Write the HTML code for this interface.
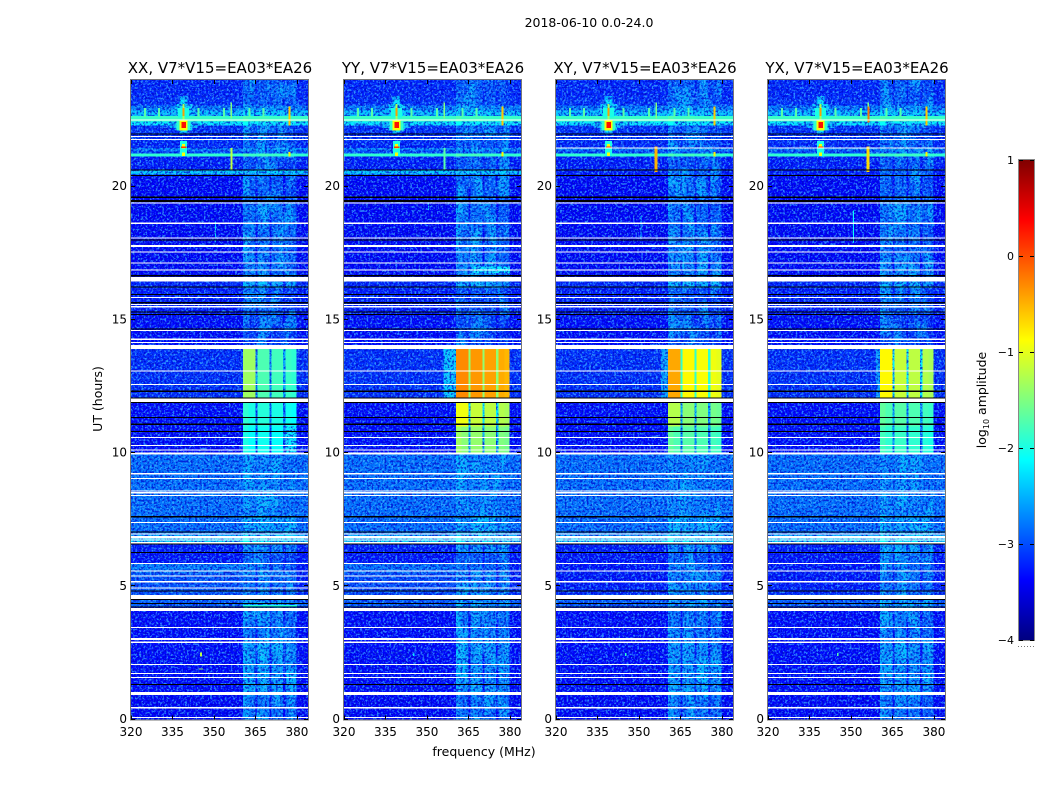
<!DOCTYPE html>
<html>
<head>
<meta charset="utf-8">
<title>2018-06-10 0.0-24.0</title>
<style>
html,body{margin:0;padding:0;background:#fff;}
svg{display:block;}
text{font-family:"DejaVu Sans","Liberation Sans",sans-serif;fill:#000;}
</style>
</head>
<body>
<svg id="chart" xmlns="http://www.w3.org/2000/svg" width="1050" height="800" viewBox="0 0 1050 800">
  <defs>
    <filter id="speck-light" x="0" y="0" width="100%" height="100%">
      <feTurbulence type="fractalNoise" baseFrequency="0.48" numOctaves="2" seed="4"/>
      <feColorMatrix type="matrix" values="0 0 0 0 0.05  0 0 0 0 0.5  0 0 0 0 1  6 0 0 0 -2.9"/>
    </filter>
    <filter id="speck-dark" x="0" y="0" width="100%" height="100%">
      <feTurbulence type="fractalNoise" baseFrequency="0.46" numOctaves="2" seed="11"/>
      <feColorMatrix type="matrix" values="0 0 0 0 0  0 0 0 0 0  0 0 0 0 0.6  6 0 0 0 -2.9"/>
    </filter>
    <filter id="band-mottle" x="0" y="0" width="100%" height="100%">
      <feTurbulence type="fractalNoise" baseFrequency="0.09 0.035" numOctaves="3" seed="7"/>
      <feColorMatrix type="matrix" values="0 0 0 0 0  0 0 0 0 0.85  0 0 0 0 1  5 0 0 0 -2.3"/>
    </filter>
  </defs>
  <text x="589" y="27" font-size="12.5" text-anchor="middle">2018-06-10 0.0-24.0</text>
  <text x="484" y="756" font-size="12.5" text-anchor="middle">frequency (MHz)</text>
  <text x="0" y="0" font-size="12.5" text-anchor="middle" transform="translate(102,399) rotate(-90)">UT (hours)</text>
  <g id="panels"></g>
  <g id="colorbar"></g>
  <text x="0" y="0" font-size="12.5" text-anchor="middle" transform="translate(986,400) rotate(-90)">log<tspan font-size="8" dy="3">10</tspan><tspan dy="-3"> amplitude</tspan></text>
  <line x1="1018" x2="1035" y1="646.5" y2="646.5" stroke="#777" stroke-width="1" stroke-dasharray="1 2"/>
</svg>
<script>
// Chart data (log10 amplitude, hours UT, MHz)
const panelTitles = ["XX, V7*V15=EA03*EA26", "YY, V7*V15=EA03*EA26", "XY, V7*V15=EA03*EA26", "YX, V7*V15=EA03*EA26"];
const freqTicks = [320, 335, 350, 365, 380];
const timeTicks = [0, 5, 10, 15, 20];
const colorTicks = [-4, -3, -2, -1, 0, 1];

const rowTops = [24, 23.35, 23.05, 22.85, 22.65, 22.45, 22.3, 21.7, 21.45, 21.35, 21.25, 21.12, 20.62, 20.45, 19.4, 17.5, 16.6, 16.2, 15.2, 14.0, 12.04, 11.0, 10.0, 7.6, 7.0, 6.9, 6.62, 6.25, 5.9, 5.6, 5.4, 5.2, 4.9, 4.7, 4.25, 3.0, 1.3, 0.9];
const rowBackground = [-3.2, -3.15, -2.75, -2.4, -1.85, -2.2, -3.15, -3.2, -2.7, -3.0, -1.9, -3.25, -3.25, -3.4, -3.4, -3.4, -3.2, -3.25, -3.35, -3.15, -3.35, -3.35, -2.8, -2.8, -2.7, -2.3, -3.25, -3.3, -3.3, -3.25, -3.3, -3.25, -3.2, -2.9, -3.35, -3.35, -3.35, -3.4];
const bandXX = [-2.95, -2.95, -2.65, -2.35, -1.85, -2.2, -2.95, -2.95, -2.65, -2.9, -1.85, -3.0, -2.9, -2.9, -2.85, -2.8, -2.55, -3.0, -3.1, -1.8, -2.0, -2.1, -2.75, -2.6, -2.5, -2.2, -2.7, -2.95, -2.85, -2.75, -2.85, -2.8, -2.8, -2.7, -2.8, -2.6, -2.6, -2.8];
const bandYY = [-2.95, -2.95, -2.65, -2.35, -1.85, -2.2, -2.95, -2.95, -2.65, -2.9, -1.85, -3.0, -2.9, -2.9, -2.85, -2.8, -2.55, -3.0, -3.1, -0.42, -1.2, -1.45, -2.75, -2.6, -2.5, -2.2, -2.7, -2.95, -2.85, -2.75, -2.85, -2.8, -2.8, -2.7, -2.8, -2.65, -2.65, -2.85];
const bandXY = [-2.95, -2.95, -2.65, -2.35, -1.85, -2.2, -2.95, -2.95, -2.65, -2.9, -1.85, -3.0, -2.9, -2.9, -2.85, -2.75, -2.5, -3.0, -3.1, -0.9, -1.5, -1.75, -2.75, -2.6, -2.5, -2.2, -2.7, -2.95, -2.85, -2.75, -2.85, -2.8, -2.8, -2.7, -2.8, -2.65, -2.65, -2.85];
const bandYX = [-2.95, -2.95, -2.65, -2.35, -1.85, -2.2, -2.95, -2.95, -2.65, -2.9, -1.85, -3.0, -2.9, -2.9, -2.85, -2.8, -2.55, -3.0, -3.1, -1.2, -1.75, -1.9, -2.75, -2.6, -2.5, -2.2, -2.7, -2.95, -2.85, -2.75, -2.85, -2.8, -2.8, -2.7, -2.8, -2.65, -2.65, -2.85];

// Frequency segments: background, then four receiver channels separated by gaps
const segmentEdges = [320, 360.5, 362.5, 365, 365.7, 367.5, 370, 370.8, 373, 375, 375.8, 378, 379.8, 384];
const segmentKinds = ["bg", "band", "band", "gap", "band", "band", "gap", "band", "band", "gap", "band", "band", "bg"];
const segmentOffsets = [0, 0.1, 0, -1, 0.05, 0.05, -1, 0, 0, -1, -0.05, -0.1, 0];

// Localised signals: panel (-1 = all), time from, time to, freq from, freq to, level
const signalPanels = [-1, -1, -1, -1, -1, -1, -1, -1, -1, -1, -1, -1, -1, -1, 0, 1, 2, 3, -1, -1, -1, -1, -1, -1, -1, -1, -1, -1, 0, 2, 3, 1, 0, 0, 1, 2, 3, 0, 1, 0, 1, 2, 3, 3, 1, 0, 1, 0, 1, 0, 1, 2, 3, 1, 2];
const signalTimeFrom = [23.4, 22.9, 23.1, 23.25, 22.95, 22.45, 23.1, 22.95, 22.48, 22.42, 21.72, 21.6, 21.5, 21.28, 21.44, 21.44, 21.5, 21.5, 23.15, 22.95, 22.95, 22.95, 22.95, 22.95, 22.95, 22.95, 23.0, 21.3, 2.52, 2.5, 2.5, 2.5, 1.92, 18.7, 19.4, 18.9, 19.1, 20.62, 20.62, 4.3, 14.0, 14.0, 14.0, 23.0, 17.0, 5.85, 5.85, 5.5, 5.5, 14.0, 14.0, 14.0, 14.0, 12.04, 12.04];
const signalTimeTo = [22.0, 22.2, 22.1, 22.05, 22.6, 22.1, 22.1, 22.65, 22.1, 22.2, 21.12, 21.42, 21.44, 21.15, 20.65, 20.65, 20.55, 20.55, 22.55, 22.62, 22.62, 22.62, 22.62, 22.62, 22.62, 22.62, 22.3, 21.13, 2.36, 2.38, 2.38, 2.38, 1.88, 17.9, 19.1, 18.0, 17.9, 20.45, 20.45, 4.22, 12.05, 12.05, 12.05, 22.4, 16.75, 5.5, 5.5, 4.67, 4.67, 12.05, 12.05, 12.05, 12.05, 11.0, 11.0];
const signalFreqFrom = [337.5, 334, 336, 338, 337, 336.5, 338.6, 338.6, 337.5, 338.2, 337.8, 338.4, 338, 338.4, 355.9, 355.9, 355.7, 355.7, 356, 324.7, 329.8, 344, 353.2, 362.5, 367.6, 377, 377, 377, 345, 345, 345, 345, 344.5, 350.4, 350.4, 350.6, 350.7, 320, 320, 360.5, 356, 358, 359, 356, 367, 320, 320, 320, 320, 360.5, 360.5, 360.5, 360.5, 360.5, 360.5];
const signalFreqTo = [340.5, 344, 342, 340, 341, 341.5, 339.4, 339.4, 340.5, 339.8, 340.2, 339.6, 340, 339.6, 356.7, 356.7, 356.7, 356.7, 356.5, 325.4, 330.5, 344.7, 353.9, 363.2, 368.3, 377.7, 377.7, 377.7, 345.7, 345.5, 345.5, 345.5, 346, 350.8, 350.8, 351, 351.1, 384, 384, 380, 360.5, 360.5, 360.5, 356.7, 380, 360.5, 360.5, 360.5, 360.5, 365, 365, 365, 365, 365, 365];
const signalLevels = [-2.5, -2.45, -2.3, -2.2, -2.0, -1.9, -1.3, -0.4, -0.9, 0.3, -2.0, -0.9, 0.1, -0.9, -1.2, -1.7, -0.5, -0.7, -1.5, -1.7, -1.7, -1.7, -1.7, -1.7, -1.7, -1.0, -0.6, -0.8, -1.2, -1.9, -1.7, -2.2, -1.4, -2.3, -2.3, -2.3, -2.1, -2.35, -2.35, -2.0, -2.35, -2.55, -2.6, -0.2, -2.15, -2.75, -2.8, -2.95, -3.0, -1.35, -0.3, -0.45, -0.85, -0.95, -1.25];

// Flagged (blank) time ranges, hours
const whiteFrom = [22.52, 21.9, 21.78, 19.4, 18.66, 18.09, 17.8, 17.56, 17.15, 16.89, 16.6, 15.86, 15.6, 15.51, 14.62, 14.29, 14.17, 14.05, 13.1, 12.6, 12.04, 10.61, 10.31, 10.13, 10.02, 9.25, 9.07, 8.59, 8.53, 8.43, 7.42, 6.98, 6.88, 6.76, 6.66, 5.88, 5.6, 5.19, 4.67, 4.18, 3.48, 3.05, 2.92, 2.09, 1.75, 1.6, 1.04, 0.46, 0.1];
const whiteTo = [22.48, 21.86, 21.74, 19.36, 18.6, 18.05, 17.74, 17.52, 17.11, 16.85, 16.44, 15.82, 15.56, 15.47, 14.58, 14.25, 14.13, 13.9, 13.06, 12.56, 11.91, 10.57, 10.27, 10.09, 9.94, 9.19, 9.03, 8.55, 8.49, 8.39, 7.38, 6.94, 6.8, 6.72, 6.6, 5.84, 5.56, 5.15, 4.53, 4.08, 3.44, 2.98, 2.88, 2.05, 1.71, 1.56, 0.92, 0.42, 0.06];
const blackFrom = [22.0, 20.64, 20.44, 19.62, 19.5, 18.01, 16.68, 16.25, 15.97, 15.66, 15.31, 15.22, 14.68, 12.34, 12.08, 11.92, 11.36, 11.1, 10.83, 7.63, 7.06, 6.6, 6.29, 4.84, 4.52, 4.38, 4.24, 1.34];
const blackTo = [21.96, 20.6, 20.4, 19.58, 19.42, 17.97, 16.63, 16.21, 15.93, 15.62, 15.27, 15.18, 14.64, 12.3, 12.04, 11.88, 11.32, 11.06, 10.79, 7.59, 7.02, 6.56, 6.25, 4.8, 4.48, 4.34, 4.2, 1.3];
// Blank ranges seen only on some panels
const extraWhitePanels = [2, 3, 0, 1, 0, 1];
const extraWhiteFrom = [21.46, 21.46, 5.4, 5.4, 4.95, 4.95];
const extraWhiteTo = [21.42, 21.42, 5.36, 5.36, 4.91, 4.91];

// Axis geometry
const NS = "http://www.w3.org/2000/svg";
const panelLefts = [131, 344, 556, 768];
const panelWidth = 177, panelTop = 80, panelBottom = 719.5;
const bandSeries = [bandXX, bandYY, bandXY, bandYX];
const xScale = (f, left) => left + (f - 320) / 64 * panelWidth;
const yScale = t => panelBottom - t / 24 * (panelBottom - panelTop);
const grainCutoff = -2.1;

function clamp(v) { return Math.max(0, Math.min(1, v)); }
function jet(level) {
  const x = clamp((level + 4) / 5);
  const r = clamp(Math.min(4 * x - 1.5, -4 * x + 4.5));
  const g = clamp(Math.min(4 * x - 0.5, -4 * x + 3.5));
  const b = clamp(Math.min(4 * x + 0.5, -4 * x + 2.5));
  return "rgb(" + Math.round(r * 255) + "," + Math.round(g * 255) + "," + Math.round(b * 255) + ")";
}
function make(tag, attrs, parent) {
  const el = document.createElementNS(NS, tag);
  for (const k in attrs) el.setAttribute(k, attrs[k]);
  parent.appendChild(el);
  return el;
}
function box(parent, x0, x1, y0, y1, fill) {
  return make("rect", { x: x0, y: y0, width: x1 - x0, height: y1 - y0, fill: fill, "shape-rendering": "crispEdges" }, parent);
}

const panelsRoot = document.getElementById("panels");
panelTitles.forEach(function (title, p) {
  const left = panelLefts[p];
  const right = left + panelWidth;
  const g = make("g", {}, panelsRoot);
  
  

  function drawLayer(bright) {
    // Heatmap rows
    rowTops.forEach(function (top, r) {
      const bottom = r + 1 < rowTops.length ? rowTops[r + 1] : 0;
      segmentKinds.forEach(function (kind, s) {
        const base = kind === "bg" ? rowBackground[r] : Math.max(rowBackground[r], bandSeries[p][r] + segmentOffsets[s]);
        if ((base >= grainCutoff) !== bright) return;
        const cell = box(g, xScale(segmentEdges[s], left), xScale(segmentEdges[s + 1], left), yScale(top), yScale(bottom), jet(base));
        
        
      });
    });
    // Localised signals
    signalLevels.forEach(function (level, i) {
      if (signalPanels[i] !== -1 && signalPanels[i] !== p) return;
      if ((level >= grainCutoff) !== bright) return;
      const mark = box(g, xScale(signalFreqFrom[i], left), xScale(signalFreqTo[i], left), yScale(signalTimeFrom[i]), yScale(signalTimeTo[i]), jet(level));
      
      
    });
  }

  drawLayer(false);

  // Texture: mottling in the receiver band, then pixel grain
  const mottle = make("rect", { x: xScale(360.5, left), y: panelTop, width: xScale(379.8, left) - xScale(360.5, left), height: panelBottom - panelTop, filter: "url(#band-mottle)", opacity: 0.5 }, g);
  
  
  const lightGrain = make("rect", { x: left, y: panelTop, width: panelWidth, height: panelBottom - panelTop, filter: "url(#speck-light)", opacity: 0.7 }, g);
  
  
  const darkGrain = make("rect", { x: left, y: panelTop, width: panelWidth, height: panelBottom - panelTop, filter: "url(#speck-dark)", opacity: 0.7 }, g);
  
  

  drawLayer(true);

  // Flagged rows
  whiteFrom.forEach(function (t, i) {
    const gap = box(g, left, right, yScale(t), yScale(whiteTo[i]), "#fff");
    
    
  });
  extraWhiteFrom.forEach(function (t, i) {
    if (extraWhitePanels[i] !== p) return;
    const gap = box(g, left, right, yScale(t), yScale(extraWhiteTo[i]), "#fff");
    
    
  });
  blackFrom.forEach(function (t, i) {
    const gap = box(g, left, right, yScale(t), yScale(blackTo[i]), "#000");
    
    
  });

  // Frame
  const frame = make("rect", { x: left - 0.5, y: panelTop - 0.5, width: panelWidth + 1, height: panelBottom - panelTop + 1, fill: "none", stroke: "#777", "stroke-width": 1 }, g);
  
  

  // Ticks and labels
  freqTicks.forEach(function (f) {
    const x = Math.round(xScale(f, left)) + 0.5;
    const tb = make("line", { x1: x, x2: x, y1: panelBottom, y2: panelBottom - 4, stroke: "#000" }, g);
    
    
    const tt = make("line", { x1: x, x2: x, y1: panelTop, y2: panelTop + 4, stroke: "#000" }, g);
    
    
    const label = make("text", { x: xScale(f, left), y: 736, "font-size": 12, "text-anchor": "middle" }, g);
    label.textContent = f;
    
    
  });
  timeTicks.forEach(function (t) {
    const y = Math.round(yScale(t)) - 0.5;
    const tl = make("line", { x1: left, x2: left + 4, y1: y, y2: y, stroke: "#000" }, g);
    
    
    const tr = make("line", { x1: right, x2: right - 4, y1: y, y2: y, stroke: "#000" }, g);
    
    
    const label = make("text", { x: left - 4, y: yScale(t) + 3.5, "font-size": 12, "text-anchor": "end" }, g);
    label.textContent = t;
    
    
  });

  const heading = make("text", { x: left + panelWidth / 2 + 0.5, y: 73, "font-size": 15, "text-anchor": "middle" }, g);
  heading.textContent = title;
  
  
});

// Colorbar
const cbRoot = document.getElementById("colorbar");
const cbLeft = 1019, cbRight = 1034, cbTop = 160, cbBottom = 640;
const cbY = v => cbBottom - (v + 4) / 5 * (cbBottom - cbTop);
for (let y = cbTop; y < cbBottom; y++) {
  const strip = box(cbRoot, cbLeft, cbRight, y, y + 1, jet(-4 + (cbBottom - y - 0.5) / (cbBottom - cbTop) * 5));
  
  
}
const cbFrame = make("rect", { x: cbLeft - 0.5, y: cbTop - 0.5, width: cbRight - cbLeft + 1, height: cbBottom - cbTop + 1, fill: "none", stroke: "#888" }, cbRoot);


colorTicks.forEach(function (v) {
  const y = Math.round(cbY(v)) + 0.5;
  const a = make("line", { x1: cbLeft, x2: cbLeft + 4, y1: y, y2: y, stroke: "#000" }, cbRoot);
  
  
  const b = make("line", { x1: cbRight, x2: cbRight - 4, y1: y, y2: y, stroke: "#000" }, cbRoot);
  
  
  const label = make("text", { x: 1014, y: cbY(v) + 4, "font-size": 11, "text-anchor": "end" }, cbRoot);
  label.textContent = v < 0 ? "\u2212" + Math.abs(v) : String(v);
  
  
});
</script>
</body>
</html>
